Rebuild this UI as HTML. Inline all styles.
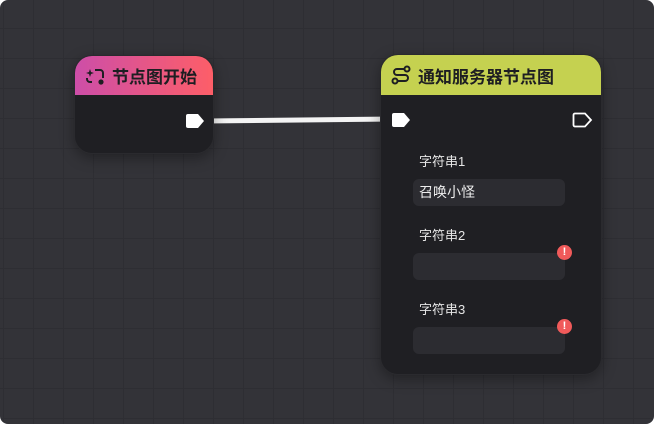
<!DOCTYPE html>
<html><head><meta charset="utf-8"><style>
html,body{margin:0;padding:0;background:#fff;}
body{width:654px;height:424px;position:relative;overflow:hidden;font-family:"Liberation Sans","Noto Sans CJK SC",sans-serif;}
.bg{position:absolute;left:0;top:0;width:654px;height:424px;border-radius:8px;background-color:#333338;
background-image:linear-gradient(#2e2e33 1px,transparent 1px),linear-gradient(90deg,#2e2e33 1px,transparent 1px);
background-size:30px 30px;background-position:3px -2px;}
.node{position:absolute;background:#1f1f23;border-radius:18px;overflow:hidden;box-shadow:0 4px 14px rgba(0,0,0,.35);border:1px solid #2a2a2e;box-sizing:border-box;}
.hdr{height:40px;display:flex;align-items:center;font-weight:bold;font-size:17px;color:#1e1e22;}
.lbl{position:absolute;color:#e6e6e6;font-size:13px;}
.inp{position:absolute;left:32px;width:152px;height:27px;background:#2c2c31;border-radius:6px;color:#eee;font-size:14px;line-height:27px;padding-left:6px;box-sizing:border-box;}
.err{position:absolute;width:15px;height:15px;border-radius:50%;background:#f05a5a;color:#fff;font-size:11px;font-weight:bold;text-align:center;line-height:15px;}
</style></head><body>
<div class="bg"></div>
<svg style="position:absolute;left:0;top:0" width="654" height="424"><path d="M205 121 L392 119" stroke="#f4f4f4" stroke-width="5"/></svg>
<div class="node" style="left:74px;top:55px;width:140px;height:99px;">
 <div class="hdr" style="background:linear-gradient(90deg,#cd4ea8,#fd5e68);height:39px;">
  <svg width="22" height="22" style="margin:0 6px 0 9px" viewBox="0 0 22 22"><path d="M6 4 L7 7 L10 8 L7 9 L6 12 L5 9 L2 8 L5 7Z" fill="#1e1e22"/><path d="M11 5 h5 a3 3 0 0 1 3 3 v5 M8 17 h-2 a3 3 0 0 1-3-3 v-1" stroke="#1e1e22" stroke-width="2" fill="none"/><circle cx="17" cy="17" r="2.6" fill="#1e1e22"/></svg>
  节点图开始</div>
 <svg style="position:absolute;left:110px;top:57px" width="22" height="18"><path d="M3 1 h10 l6 7 l-6 7 h-10 a2 2 0 0 1-2-2 v-10 a2 2 0 0 1 2-2z" fill="#fff"/></svg>
</div>
<div class="node" style="left:380px;top:54px;width:222px;height:321px;">
 <div class="hdr" style="background:#c5d150;">
  <svg width="22" height="22" style="margin:0 6px 0 9px" viewBox="0 0 22 22"><circle cx="17" cy="5" r="2.5" stroke="#1e1e22" stroke-width="2" fill="none"/><circle cx="5" cy="17" r="2.5" stroke="#1e1e22" stroke-width="2" fill="none"/><path d="M14 5 h-7 a3 3 0 0 0 0 6 h8 a3 3 0 0 1 0 6 h-7" stroke="#1e1e22" stroke-width="2" fill="none"/></svg>
  通知服务器节点图</div>
 <svg style="position:absolute;left:10px;top:57px" width="24" height="18"><path d="M3 1 h10 l6 7 l-6 7 h-10 a2 2 0 0 1-2-2 v-10 a2 2 0 0 1 2-2z" fill="#fff"/></svg>
 <svg style="position:absolute;left:191px;top:57px" width="24" height="18"><path d="M3 1.5 h10 l6 6.5 l-6 6.5 h-10 a1.5 1.5 0 0 1-1.5-1.5 v-10 a1.5 1.5 0 0 1 1.5-1.5z" fill="none" stroke="#fff" stroke-width="1.8"/></svg>
 <div class="lbl" style="left:38px;top:96px">字符串1</div>
 <div class="inp" style="top:124px">召唤小怪</div>
 <div class="lbl" style="left:38px;top:170px">字符串2</div>
 <div class="inp" style="top:198px"></div>
 <div class="err" style="left:176px;top:190px">!</div>
 <div class="lbl" style="left:38px;top:244px">字符串3</div>
 <div class="inp" style="top:272px"></div>
 <div class="err" style="left:176px;top:264px">!</div>
</div>
</body></html>
